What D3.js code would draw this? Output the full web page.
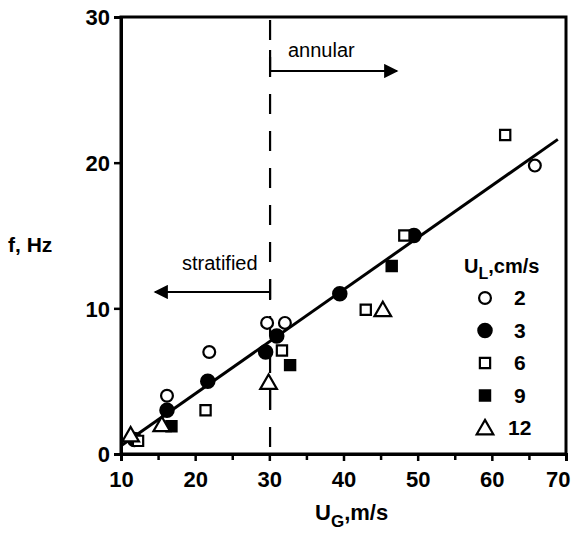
<!DOCTYPE html>
<html>
<head>
<meta charset="utf-8">
<script src="https://cdn.jsdelivr.net/npm/d3@7"></script>
<style>
  html, body { margin: 0; padding: 0; background: #fff; }
  svg { display: block; font-family: "Liberation Sans", Arial, Helvetica, sans-serif; }
</style>
</head>
<body>
<svg id="chart" width="571" height="540"></svg>
<script>
// Frequency f vs gas velocity U_G for several liquid velocities U_L
const xTicks = [10, 20, 30, 40, 50, 60, 70];
const xMinorTicks = [15, 25, 35, 45, 55, 65];
const yTicks = [0, 10, 20, 30];

const ul2  = [[12, 1], [16.2, 4], [21.9, 7], [29.7, 9], [32.1, 9], [65.8, 19.8]];
const ul3  = [[11.8, 1], [16.2, 3], [21.7, 5], [29.5, 7], [31, 8.1], [39.5, 11], [49.5, 15]];
const ul6  = [[12.3, 0.9], [21.4, 3], [31.7, 7.1], [43, 9.9], [48.2, 15], [61.8, 21.9]];
const ul9  = [[16.8, 1.9], [32.8, 6.1], [46.5, 12.9]];
const ul12 = [[11.3, 1.3], [15.5, 2], [29.9, 4.9], [45.3, 9.9]];

const legendLabels = ["2", "3", "6", "9", "12"];
const fitLine = [[10.1, 0.6], [68.9, 21.6]];
const transitionUG = 30.1;

const svg = d3.select("#chart");
const m = { left: 121, right: 5, top: 17, bottom: 86 };
const W = 571, H = 540;

const x = d3.scaleLinear().domain([10, 70]).range([m.left, W - m.right]);
const y = d3.scaleLinear().domain([0, 30]).range([H - m.bottom, m.top]);

const ink = "#000";

// frame
svg.append("rect")
  .attr("x", x(10)).attr("y", y(30))
  .attr("width", x(70) - x(10)).attr("height", y(0) - y(30))
  .attr("fill", "none").attr("stroke", ink).attr("stroke-width", 3);

// bottom axis
const xAxis = svg.append("g").attr("transform", `translate(0,${y(0)})`)
  .call(d3.axisBottom(x).tickValues(xTicks).tickSize(7).tickPadding(10).tickFormat(d3.format("d")));
svg.append("g").attr("transform", `translate(0,${y(0)})`)
  .call(d3.axisBottom(x).tickValues(xMinorTicks).tickSize(6).tickFormat(""))
  .call(g => g.select(".domain").remove());

// left axis
const yAxis = svg.append("g").attr("transform", `translate(${x(10)},0)`)
  .call(d3.axisLeft(y).tickValues(yTicks).tickSize(7).tickPadding(4).tickFormat(d3.format("d")));

svg.selectAll(".domain").attr("stroke-width", 3);
svg.selectAll(".tick line").attr("stroke", ink).attr("stroke-width", 2.5);
svg.selectAll(".tick text")
  .attr("fill", ink)
  .style("font-size", "22px")
  .style("font-weight", "bold")
  .style("font-family", "'Liberation Sans', Arial, sans-serif");
yAxis.selectAll(".tick text").attr("dy", "0.36em");
// last x label sits against the right edge
xAxis.selectAll(".tick").filter(d => d === 70).select("text")
  .attr("text-anchor", "end").attr("dx", 4);

// regime boundary (dashed)
svg.append("line")
  .attr("x1", x(transitionUG)).attr("x2", x(transitionUG))
  .attr("y1", y(30) + 3).attr("y2", y(0))
  .attr("stroke", ink).attr("stroke-width", 2.2)
  .attr("stroke-dasharray", "20,17");

// arrowheads
const defs = svg.append("defs");
defs.append("marker")
  .attr("id", "head")
  .attr("viewBox", "0 0 10 10")
  .attr("refX", 9).attr("refY", 5)
  .attr("markerWidth", 8.5).attr("markerHeight", 6.5)
  .attr("markerUnits", "strokeWidth")
  .attr("orient", "auto")
  .append("path").attr("d", "M0,0 L10,5 L0,10 Z").attr("fill", ink);

// annular regime arrow
const ya = 71;
svg.append("line")
  .attr("x1", x(transitionUG)).attr("x2", x(transitionUG))
  .attr("y1", 50).attr("y2", ya)
  .attr("stroke", ink).attr("stroke-width", 2.2);
svg.append("line")
  .attr("x1", x(transitionUG)).attr("x2", 397)
  .attr("y1", ya).attr("y2", ya)
  .attr("stroke", ink).attr("stroke-width", 2.2)
  .attr("marker-end", "url(#head)");
svg.append("text")
  .attr("x", 288).attr("y", 57)
  .style("font-size", "20px")
  .text("annular");

// stratified regime arrow
const ys = 292;
svg.append("line")
  .attr("x1", x(transitionUG)).attr("x2", x(transitionUG))
  .attr("y1", 279).attr("y2", 300)
  .attr("stroke", ink).attr("stroke-width", 2.2);
svg.append("line")
  .attr("x1", x(transitionUG)).attr("x2", 155)
  .attr("y1", ys).attr("y2", ys)
  .attr("stroke", ink).attr("stroke-width", 2.2)
  .attr("marker-end", "url(#head)");
svg.append("text")
  .attr("x", 182).attr("y", 270)
  .style("font-size", "20px")
  .text("stratified");

// correlation line
svg.append("path")
  .datum(fitLine)
  .attr("d", d3.line().x(d => x(d[0])).y(d => y(d[1])))
  .attr("fill", "none").attr("stroke", ink).attr("stroke-width", 3);

// arrow shaft under the U_L = 12 point on the boundary
svg.append("line")
  .attr("x1", x(transitionUG)).attr("x2", x(transitionUG))
  .attr("y1", y(4.9) + 7).attr("y2", y(4.9) + 27)
  .attr("stroke", ink).attr("stroke-width", 2.2);

// marker shapes
const sym = {
  circle: d3.symbol().type(d3.symbolCircle).size(110),
  dot: d3.symbol().type(d3.symbolCircle).size(140),
  square: d3.symbol().type(d3.symbolSquare).size(105),
  triangle: d3.symbol().type(d3.symbolTriangle).size(120)
};
const styles = [
  { data: ul2,  shape: sym.circle,   fill: "#fff" },
  { data: ul3,  shape: sym.dot,      fill: ink },
  { data: ul6,  shape: sym.square,   fill: "#fff" },
  { data: ul9,  shape: sym.square,   fill: ink },
  { data: ul12, shape: sym.triangle, fill: "#fff" }
];

styles.forEach(s => {
  svg.append("g").selectAll("path")
    .data(s.data).join("path")
    .attr("transform", d => `translate(${x(d[0])},${y(d[1]) + (s.shape === sym.triangle ? 1.5 : 0)})`)
    .attr("d", s.shape)
    .attr("fill", s.fill)
    .attr("stroke", ink).attr("stroke-width", 2.2);
});

// legend
const lg = svg.append("g");
const lt = lg.append("text").attr("x", 464).attr("y", 273)
  .style("font-size", "20px").style("font-weight", "bold");
lt.append("tspan").text("U");
lt.append("tspan").attr("dy", 6).style("font-size", "16px").text("L");
lt.append("tspan").attr("dy", -6).text(",cm/s");

styles.forEach((s, i) => {
  const cy = 298 + i * 32.5;
  lg.append("path")
    .attr("transform", `translate(485,${cy + (s.shape === sym.triangle ? 1.5 : 0)})`)
    .attr("d", s.shape)
    .attr("fill", s.fill)
    .attr("stroke", ink).attr("stroke-width", 2.2);
  lg.append("text")
    .attr("x", legendLabels[i].length > 1 ? 508 : 514).attr("y", cy + 7)
    .style("font-size", "21px").style("font-weight", "bold")
    .text(legendLabels[i]);
});

// axis titles
const xt = svg.append("text").attr("x", 315).attr("y", 520)
  .style("font-size", "22px").style("font-weight", "bold");
xt.append("tspan").text("U");
xt.append("tspan").attr("dy", 7).style("font-size", "17px").text("G");
xt.append("tspan").attr("dy", -7).text(",m/s");

svg.append("text").attr("x", 8).attr("y", 252)
  .style("font-size", "21px").style("font-weight", "bold")
  .text("f, Hz");
</script>
</body>
</html>
